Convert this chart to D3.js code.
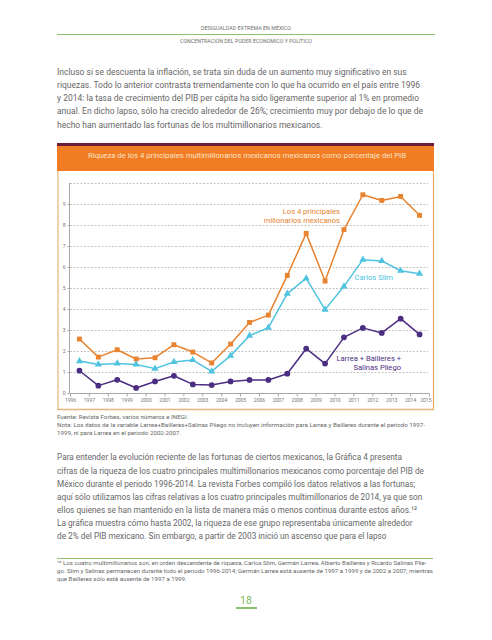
<!DOCTYPE html>
<html><head><meta charset="utf-8">
<script src="https://cdn.jsdelivr.net/npm/d3@7"></script>
<style>html,body{margin:0;padding:0;background:#fff;}svg{display:block;font-family:Roboto,"Noto Sans",sans-serif;}</style>
</head><body>
<svg id="c" width="492" height="640"></svg>
<script>
const years = [1996,1997,1998,1999,2000,2001,2002,2003,2004,2005,2006,2007,2008,2009,2010,2011,2012,2013,2014];
const top4 = [2.57,1.71,2.06,1.62,1.68,2.30,1.95,1.43,2.33,3.36,3.71,5.60,7.60,5.33,7.78,9.44,9.17,9.36,8.46];
const slim = [1.52,1.36,1.41,1.36,1.16,1.48,1.57,1.03,1.78,2.73,3.11,4.73,5.46,3.97,5.08,6.35,6.29,5.82,5.68];
const lbs  = [1.06,0.35,0.63,0.24,0.55,0.82,0.41,0.38,0.55,0.62,0.62,0.92,2.11,1.40,2.65,3.10,2.86,3.54,2.79];
const xTickLabels = ["1996","1997","1998","1999","2000","2001","2002","2003","2004","2005","2006","2007","2008","2009","2010","2011","2012","2013","2014","2015"];
const yTickLabels = [0,1,2,3,4,5,6,7,8,9];
const chartTitle = "Riqueza de los 4 principales multimillonarios mexicanos mexicanos como porcentaje del PIB";
const headerTop = "DESIGUALDAD EXTREMA EN MÉXICO";
const headerBottom = "CONCENTRACIÓN DEL PODER ECONÓMICO Y POLÍTICO";
const para1 = [
 "Incluso si se descuenta la inflación, se trata sin duda de un aumento muy significativo en sus",
 "riquezas. Todo lo anterior contrasta tremendamente con lo que ha ocurrido en el país entre 1996",
 "y 2014: la tasa de crecimiento del PIB per cápita ha sido ligeramente superior al 1% en promedio",
 "anual. En dicho lapso, sólo ha crecido alrededor de 26%; crecimiento muy por debajo de lo que de",
 "hecho han aumentado las fortunas de los multimillonarios mexicanos."];
const notes = [
 "Fuente: Revista Forbes, varios números e INEGI.",
 "Nota: Los datos de la variable Larrea+Bailleres+Salinas Pliego no incluyen información para Larrea y Bailleres durante el periodo 1997-",
 "1999, ni para Larrea en el periodo 2002-2007."];
const para2 = [
 "Para entender la evolución reciente de las fortunas de ciertos mexicanos, la Gráfica 4 presenta",
 "cifras de la riqueza de los cuatro principales multimillonarios mexicanos como porcentaje del PIB de",
 "México durante el periodo 1996-2014. La revista Forbes compiló los datos relativos a las fortunas;",
 "aquí sólo utilizamos las cifras relativas a los cuatro principales multimillonarios de 2014, ya que son",
 "ellos quienes se han mantenido en la lista de manera más o menos continua durante estos años.¹²",
 "La gráfica muestra cómo hasta 2002, la riqueza de ese grupo representaba únicamente alrededor",
 "de 2% del PIB mexicano. Sin embargo, a partir de 2003 inició un ascenso que para el lapso"];
const footnote = [
 "¹² Los cuatro multimillonarios son, en orden descendente de riqueza, Carlos Slim, Germán Larrea, Alberto Bailleres y Ricardo Salinas Plie-",
 "go. Slim y Salinas permanecen durante todo el periodo 1996-2014; Germán Larrea está ausente de 1997 a 1999 y de 2002 a 2007; mientras",
 "que Bailleres sólo está ausente de 1997 a 1999."];
const pageNumber = "18";

const svg = d3.select("#c");
const textCol = "#676767";
const green = "#8cc06a";

function block(lines, x, y0, lh, size, maxW, color){
  const g = svg.append("g");
  const ts = g.selectAll("text").data(lines).join("text")
    .attr("x", x).attr("y", (d,i)=>y0+i*lh)
    .attr("font-size", size).attr("fill", color).text(d=>d);
  const lens = ts.nodes().map(n=>n.getComputedTextLength());
  const f = maxW / d3.max(lens);
  ts.attr("textLength", (d,i)=>lens[i]*f).attr("lengthAdjust","spacingAndGlyphs");
  return g;
}
function centered(txt, cx, y, size, w, color){
  const t = svg.append("text").attr("x", cx).attr("y", y).attr("text-anchor","middle")
    .attr("font-size", size).attr("fill", color).text(txt);
  t.attr("textLength", w).attr("lengthAdjust","spacingAndGlyphs");
  return t;
}

// header
centered(headerTop, 246, 30.3, 6, 90, "#707070");
svg.append("line").attr("x1",57).attr("x2",435).attr("y1",34.5).attr("y2",34.5).attr("stroke",green).attr("stroke-width",1);
centered(headerBottom, 246, 42.8, 6, 132, "#707070");

// paragraph 1
block(para1, 57, 75, 13.15, 9.5, 366, textCol);

// chart frame
const L = 57, R = 434, T = 143;
svg.append("rect").attr("x",L).attr("y",T).attr("width",R-L).attr("height",3).attr("fill","#6d1c3d");
svg.append("rect").attr("x",L).attr("y",T+3).attr("width",R-L).attr("height",25).attr("fill","#f07d24");
centered(chartTitle, 247, 157.5, 8, 318, "#fde3c6");
svg.append("line").attr("x1",L+1).attr("x2",L+1).attr("y1",171).attr("y2",410).attr("stroke","#efd2ae").attr("stroke-width",2);
svg.append("line").attr("x1",R-0.5).attr("x2",R-0.5).attr("y1",171).attr("y2",410).attr("stroke","#eba864").attr("stroke-width",1.2);
svg.append("line").attr("x1",L).attr("x2",R).attr("y1",409.5).attr("y2",409.5).attr("stroke","#eab57a").attr("stroke-width",1.6);

// scales
const x = d3.scaleLinear().domain([1996,2015]).range([70,429]);
const y = d3.scaleLinear().domain([0,10]).range([393,183]);

// gridlines
svg.append("g").selectAll("line").data(d3.range(1,11)).join("line")
  .attr("x1",70).attr("x2",428).attr("y1",d=>y(d)+0.5).attr("y2",d=>y(d)+0.5)
  .attr("stroke","#b5b5b5").attr("stroke-width",0.8).attr("stroke-dasharray","2,1.5");

// y axis
const yAxis = d3.axisLeft(y).tickValues(yTickLabels).tickSize(2).tickFormat(d3.format("d"));
const gy = svg.append("g").attr("transform","translate(69.5,0)").call(yAxis);
gy.select(".domain").attr("stroke","#a8a8a8").attr("d","M0,"+y(10)+"V"+y(0));
gy.selectAll(".tick line").attr("stroke","#a8a8a8");
gy.selectAll(".tick text").attr("font-size",5).attr("fill","#777").attr("font-family","Roboto").attr("x",-4);

// x axis
const xAxis = d3.axisBottom(x).tickValues(xTickLabels.map(Number)).tickSize(3).tickFormat(d=>String(d));
const gx = svg.append("g").attr("transform","translate(0,393.5)").call(xAxis);
gx.select(".domain").attr("stroke","#a8a8a8").attr("d","M70,0H429");
gx.selectAll(".tick line").attr("stroke","#a8a8a8");
gx.selectAll(".tick text").attr("font-size",5).attr("fill","#777").attr("font-family","Roboto").attr("y",5);
gx.selectAll(".tick text").filter(d=>d===2015).attr("text-anchor","end").attr("dx",2);

// series
const px = (d,i)=>x(years[i]+0.5);
function series(vals, color, shape){
  const line = d3.line().x((d,i)=>px(d,i)).y(d=>y(d));
  svg.append("path").datum(vals).attr("d",line).attr("fill","none").attr("stroke",color).attr("stroke-width",1.5).attr("stroke-linejoin","round");
  const sym = d3.symbol().type(shape).size(shape===d3.symbolCircle?26:(shape===d3.symbolTriangle?22:24));
  svg.append("g").selectAll("path").data(vals).join("path")
    .attr("transform",(d,i)=>`translate(${px(d,i)},${y(d)})`)
    .attr("d",sym).attr("fill",color);
}
series(top4, "#e8832f", d3.symbolSquare);
series(slim, "#4fc3df", d3.symbolTriangle);
series(lbs, "#4b2d82", d3.symbolCircle);

// annotations
const ann = svg.append("g").attr("font-size",7.6).attr("text-anchor","end");
ann.append("text").attr("x",340).attr("y",214).attr("fill","#e8832f").text("Los 4 principales");
ann.append("text").attr("x",340).attr("y",222.5).attr("fill","#e8832f").text("millonarios mexicanos");
ann.append("text").attr("x",393).attr("y",279.5).attr("fill","#4fc3df").text("Carlos Slim");
ann.append("text").attr("x",401).attr("y",361).attr("fill","#4b2d82").text("Larrea + Bailleres +");
ann.append("text").attr("x",401).attr("y",370).attr("fill","#4b2d82").text("Salinas Pliego");

// notes
block(notes, 57, 419, 7.8, 6.2, 368, textCol);

// paragraph 2
block(para2, 57, 460.4, 13.1, 9.5, 367, textCol);

// footnote
svg.append("line").attr("x1",57).attr("x2",433).attr("y1",558.5).attr("y2",558.5).attr("stroke",green).attr("stroke-width",1);
block(footnote, 57, 564.8, 8.3, 5.6, 376, textCol);

// page number
svg.append("text").attr("x",246).attr("y",604).attr("text-anchor","middle").attr("font-size",10.5).attr("fill","#7db85c").text(pageNumber);
svg.append("line").attr("x1",236).attr("x2",257).attr("y1",608).attr("y2",608).attr("stroke","#7db85c").attr("stroke-width",1.8);
</script>
</body></html>
